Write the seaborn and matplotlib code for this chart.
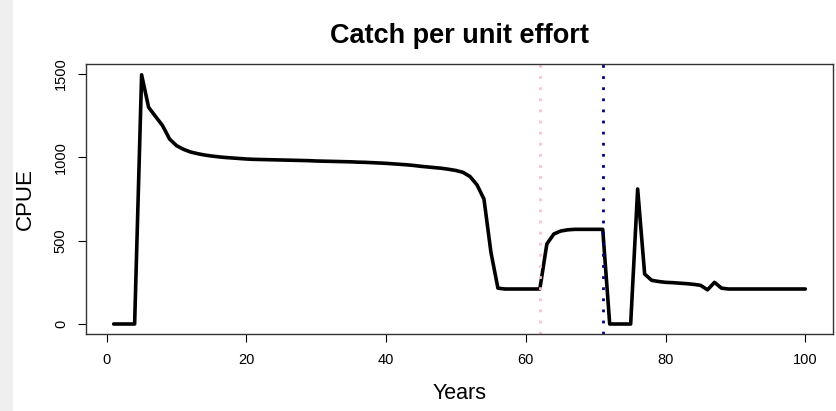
import seaborn as sns
import matplotlib.pyplot as plt
import pandas as pd
from matplotlib.patches import Rectangle

# CPUE by year
years = list(range(1, 101))
cpue = ([0, 0, 0, 0, 1495, 1300, 1245, 1190, 1110, 1070,
         1048, 1032, 1022, 1014, 1008, 1003, 999, 996, 993, 990,
         988, 987, 986, 985, 984, 983, 982, 981, 980, 978,
         977, 976, 975, 974, 973, 971, 970, 968, 966, 964,
         961, 958, 955, 951, 946, 942, 938, 934, 928, 921,
         910, 885, 835, 750, 430, 215, 210, 210, 210, 210,
         210, 210, 480, 540, 558, 565, 568, 568, 568, 568,
         568, 0, 0, 0, 0, 810, 300, 262, 255, 250,
         248, 245, 242, 238, 232, 205, 250, 215, 210, 210]
        + [210] * 10)
marker_years = [62, 71]
marker_colors = ["pink", "navy"]

data = pd.DataFrame({"Years": years, "CPUE": cpue})

sns.set_theme(style="ticks")
plt.rcParams['font.family'] = ['Liberation Sans', 'DejaVu Sans']
plt.rcParams['text.color'] = 'black'
plt.rcParams['axes.labelcolor'] = 'black'

fig = plt.figure(figsize=(8.37, 4.11), dpi=100)
fig.patches.append(Rectangle((0, 0), 13 / 837, 1, transform=fig.transFigure,
                             facecolor="#efefef", edgecolor="none", zorder=0))
ax = fig.add_axes([86 / 837, 77 / 411, 747 / 837, 270 / 411])

sns.lineplot(x="Years", y="CPUE", data=data, color="black", linewidth=2.6, ax=ax)
for yr, col in zip(marker_years, marker_colors):
    ax.axvline(yr, color=col, linewidth=2, linestyle=(0, (1, 3)))

ax.set_xlim(1 - 0.04 * 99, 100 + 0.04 * 99)
ax.set_ylim(-60, 1560)
ax.set_xticks([0, 20, 40, 60, 80, 100])
ax.set_yticks([0, 500, 1000, 1500])
ax.tick_params(axis="both", length=5.5, width=0.8, colors="black", labelsize=10.5)
ax.tick_params(axis="x", pad=8.5)
ax.tick_params(axis="y", pad=7.5)
for lbl in ax.get_yticklabels():
    lbl.set_rotation(90)
    lbl.set_va("center")
for s in ax.spines.values():
    s.set_visible(True)
    s.set_color("#333333")
    s.set_linewidth(1)

ax.set_title("Catch per unit effort", fontsize=19.5, fontweight="bold", pad=15)
ax.set_xlabel("Years", fontsize=15.5)
ax.set_ylabel("CPUE", fontsize=16)
ax.xaxis.set_label_coords(0.5, -0.18)
ax.yaxis.set_label_coords(-0.067, 0.5)

fig.savefig("out.png", dpi=100)
